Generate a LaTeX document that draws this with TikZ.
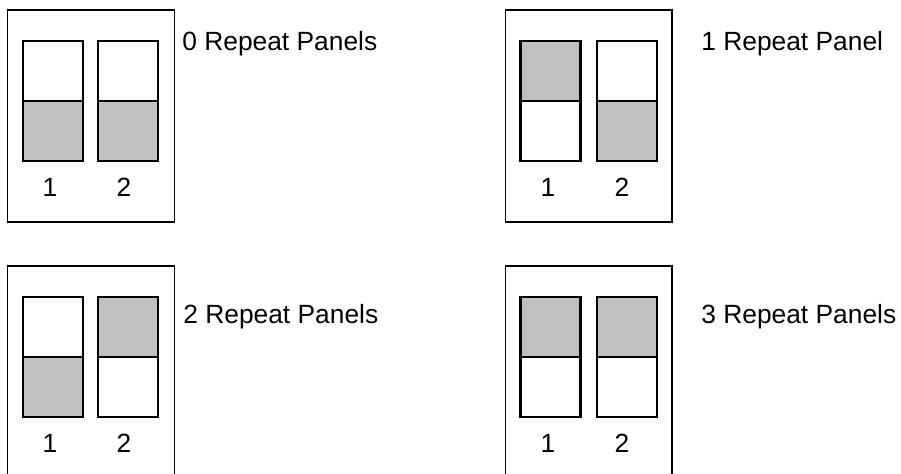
\documentclass[tikz,border=0pt]{standalone}
\usepackage{fontspec}
\setmainfont{Liberation Sans}
\usetikzlibrary{positioning}
\definecolor{shade}{HTML}{C0C0C0}
\definecolor{ink}{HTML}{000000}
\tikzset{
  frame/.style={
    draw=ink, fill=white, line width=0.85pt,
    minimum width=3.33cm, minimum height=4.24cm, inner sep=0pt
  },
  clearcell/.style={
    draw=ink, fill=white, line width=1.15pt,
    minimum width=1.2cm, minimum height=1.2cm, inner sep=0pt
  },
  greycell/.style={clearcell, fill=shade},
  num/.style={font=\fontsize{15}{18}\selectfont, anchor=base, inner sep=0pt},
  lbl/.style={font=\fontsize{15}{18}\selectfont, anchor=base west, inner sep=0pt}
}

\begin{document}
\begin{tikzpicture}

  \clip (0,0) rectangle (18.02,-9.48);

  % ---- 0 repeat panels (top left) ------------------------------------------
  \node[frame] (f0) at (1.82, -2.32) {};
  \node[clearcell] (u01) at (1.06, -1.42) {};
  \node[greycell]  (l01) at (1.06, -2.62) {};
  \node[clearcell] (u02) at (2.56, -1.42) {};
  \node[greycell]  (l02) at (2.56, -2.62) {};
  \node[num] (k01) at (1.00, -3.94) {1};
  \node[num] (k02) at (2.48, -3.94) {2};
  \node[lbl] (c0) at (3.64, -1.01) {0 Repeat Panels};

  % ---- 1 repeat panel (top right) ------------------------------------------
  \node[frame] (f1) at (11.77, -2.32) {};
  \node[greycell]  (u11) at (11.01, -1.42) {};
  \node[clearcell] (l11) at (11.01, -2.62) {};
  \node[clearcell] (u12) at (12.53, -1.42) {};
  \node[greycell]  (l12) at (12.53, -2.62) {};
  \node[num] (k11) at (10.96, -3.94) {1};
  \node[num] (k12) at (12.44, -3.94) {2};
  \node[lbl] (c1) at (14.02, -1.01) {1 Repeat Panel};

  % ---- 2 repeat panels (bottom left) ---------------------------------------
  \node[frame] (f2) at (1.82, -7.44) {};
  \node[clearcell] (u21) at (1.06, -6.54) {};
  \node[greycell]  (l21) at (1.06, -7.74) {};
  \node[greycell]  (u22) at (2.56, -6.54) {};
  \node[clearcell] (l22) at (2.56, -7.74) {};
  \node[num] (k21) at (1.00, -9.04) {1};
  \node[num] (k22) at (2.48, -9.04) {2};
  \node[lbl] (c2) at (3.66, -6.48) {2 Repeat Panels};

  % ---- 3 repeat panels (bottom right) --------------------------------------
  \node[frame] (f3) at (11.77, -7.44) {};
  \node[greycell]  (u31) at (11.01, -6.54) {};
  \node[clearcell] (l31) at (11.01, -7.74) {};
  \node[greycell]  (u32) at (12.53, -6.54) {};
  \node[clearcell] (l32) at (12.53, -7.74) {};
  \node[num] (k31) at (10.96, -9.04) {1};
  \node[num] (k32) at (12.44, -9.04) {2};
  \node[lbl] (c3) at (14.02, -6.48) {3 Repeat Panels};

\end{tikzpicture}
\end{document}
